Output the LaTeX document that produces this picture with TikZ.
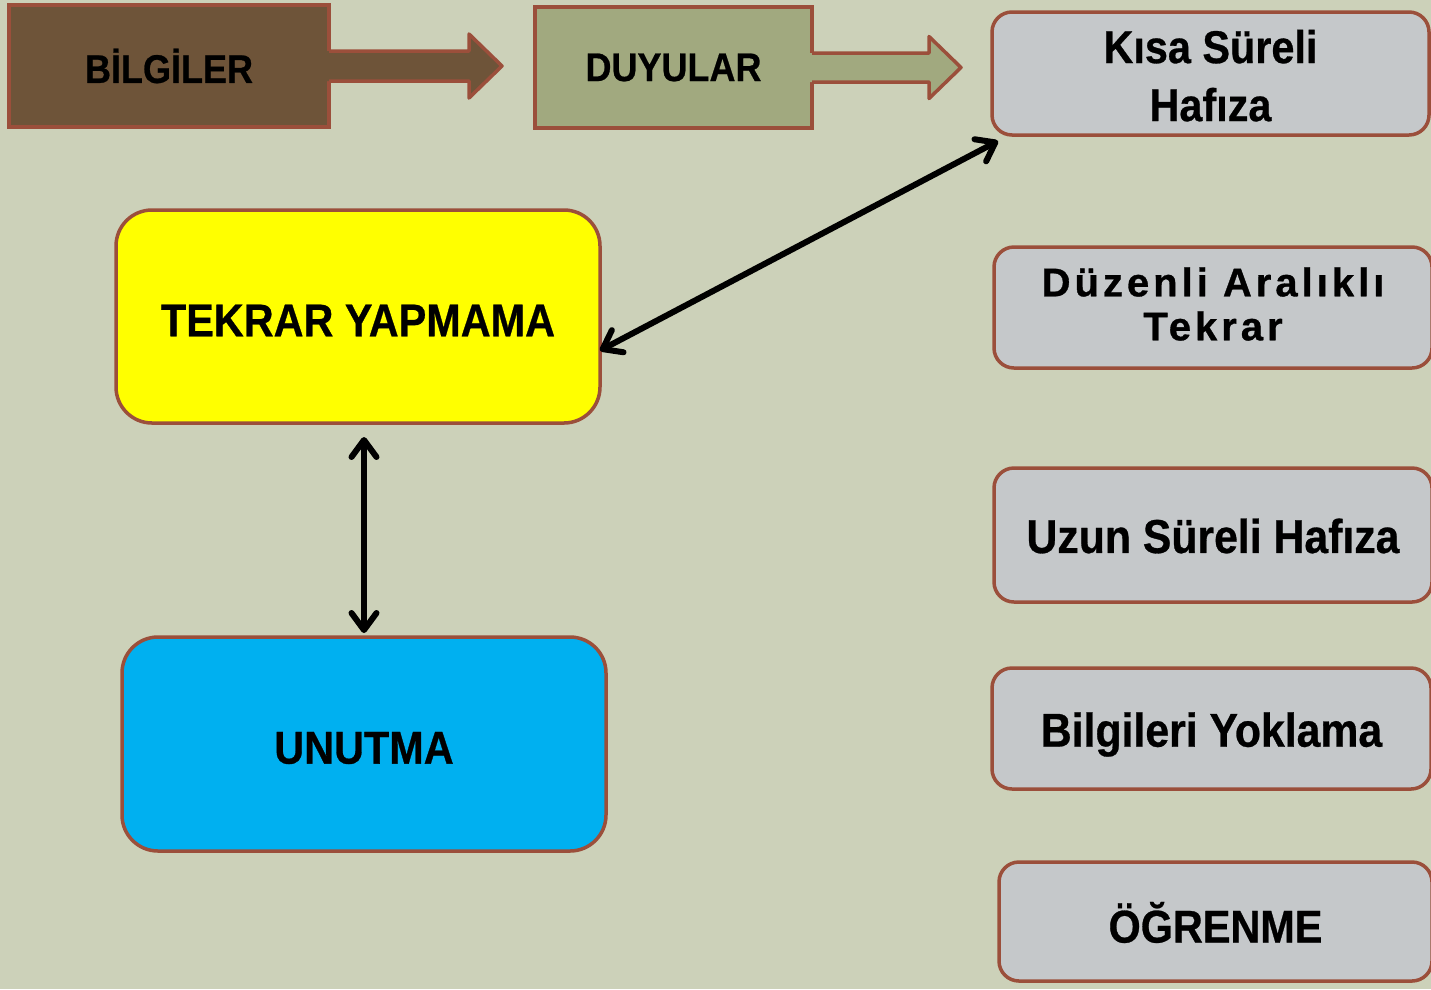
\documentclass[tikz,border=0pt]{standalone}
\usepackage{fontspec}
\newfontfamily\fg{Liberation Sans}[FakeStretch=0.9, BoldFeatures={FakeBold=0.6}]
\newfontfamily\fgs{Liberation Sans}[LetterSpace=10, BoldFeatures={FakeBold=0.8}]
\usetikzlibrary{arrows.meta,calc}
\definecolor{bg}{RGB}{204,209,185}
\definecolor{bord}{RGB}{155,79,59}
\definecolor{brownfill}{RGB}{110,84,57}
\definecolor{olivefill}{RGB}{161,169,127}
\definecolor{boxgray}{RGB}{197,200,202}
\definecolor{yel}{RGB}{255,255,0}
\definecolor{cyanfill}{RGB}{0,176,240}
\newcommand\lowr[2]{\raisebox{-#1pt}[\height][\depth]{#2}}
\newcommand\twoline[2]{\begin{tabular}{@{}c@{}}#1\\#2\end{tabular}}
\begin{document}
\begin{tikzpicture}[x=1pt,y=-1pt,
  box/.style={draw=bord, line width=3.5pt, inner sep=0pt, outer sep=0pt, align=center,
    font={\fg\bfseries\fontsize{46}{58}\selectfont}},
  topbox/.style={box, font={\fg\bfseries\fontsize{40}{48}\selectfont}},
  rbox/.style={box, rounded corners=20pt, fill=boxgray},
  bigbox/.style={box, rounded corners=36pt},
  dbl/.style={{Straight Barb[length=17pt,width=25pt,round]}-{Straight Barb[length=17pt,width=25pt,round]}, line width=6pt, line cap=round, draw=black}]
\useasboundingbox (0,0) rectangle (1431,989);
\clip (0,0) rectangle (1431,989);
\fill[bg] (0,0) rectangle (1431,989);

% top row
\node[topbox, fill=brownfill, minimum width=320pt, minimum height=122pt] (bilgiler) at (169,66) {BİLGİLER};
\fill[brownfill] (bilgiler.east) ++(-2,-15) -- ++(142,0) -- ++(0,-17) -- ++(33,32) -- ++(-33,32) -- ++(0,-17) -- ++(-142,0) -- cycle;
\draw[bord, line width=3.5pt, line join=round] (bilgiler.east) ++(0,-15) -- ++(140,0) -- ++(0,-17) -- ++(33,32) -- ++(-33,32) -- ++(0,-17) -- ++(-140,0);

\node[topbox, fill=olivefill, minimum width=277pt, minimum height=121pt] (duyular) at (673.5,67.5) {DUYULAR};
\fill[olivefill] (duyular.east) ++(-2,-14.5) -- ++(119,0) -- ++(0,-16.5) -- ++(32,31) -- ++(-32,31) -- ++(0,-16.5) -- ++(-119,0) -- cycle;
\draw[bord, line width=3.5pt, line join=round] (duyular.east) ++(0,-14.5) -- ++(117,0) -- ++(0,-16.5) -- ++(32,31) -- ++(-32,31) -- ++(0,-16.5) -- ++(-117,0);

% right column
\node[rbox, minimum width=437pt, minimum height=123pt] (kisa) at (1210.5,73.5) {\lowr{7}{\twoline{Kısa Süreli}{Hafıza}}};
\node[rbox, minimum width=438pt, minimum height=121pt, font={\fgs\bfseries\fontsize{40}{44}\selectfont}] (duzenli) at (1213,307.5) {\lowr{2}{\twoline{Düzenli Aralıklı}{Tekrar}}};
\node[rbox, minimum width=438pt, minimum height=134pt, font={\fg\bfseries\fontsize{47.5}{58}\selectfont}] (uzun) at (1213,535) {\lowr{1}{Uzun Süreli Hafıza}};
\node[rbox, minimum width=439pt, minimum height=121pt, font={\fg\bfseries\fontsize{47.5}{58}\selectfont}] (yoklama) at (1211.5,728.5) {\lowr{6}{Bilgileri Yoklama}};
\node[rbox, minimum width=433pt, minimum height=119pt] (ogrenme) at (1215.5,921.5) {\lowr{1}{ÖĞRENME}};

% left column
\node[bigbox, fill=yel, minimum width=484pt, minimum height=213pt] (tekrar) at (358,316.5) {\lowr{4}{TEKRAR YAPMAMA}};
\node[bigbox, fill=cyanfill, minimum width=484pt, minimum height=214pt] (unutma) at (364,744) {\lowr{4}{UNUTMA}};

% connectors
\draw[dbl] (tekrar.-8.3) -- ([xshift=6pt,yshift=-6pt]kisa.south west);
\draw[dbl, shorten <=4pt, shorten >=14pt] (unutma.north) -- (unutma.north |- tekrar.south);
\end{tikzpicture}
\end{document}
